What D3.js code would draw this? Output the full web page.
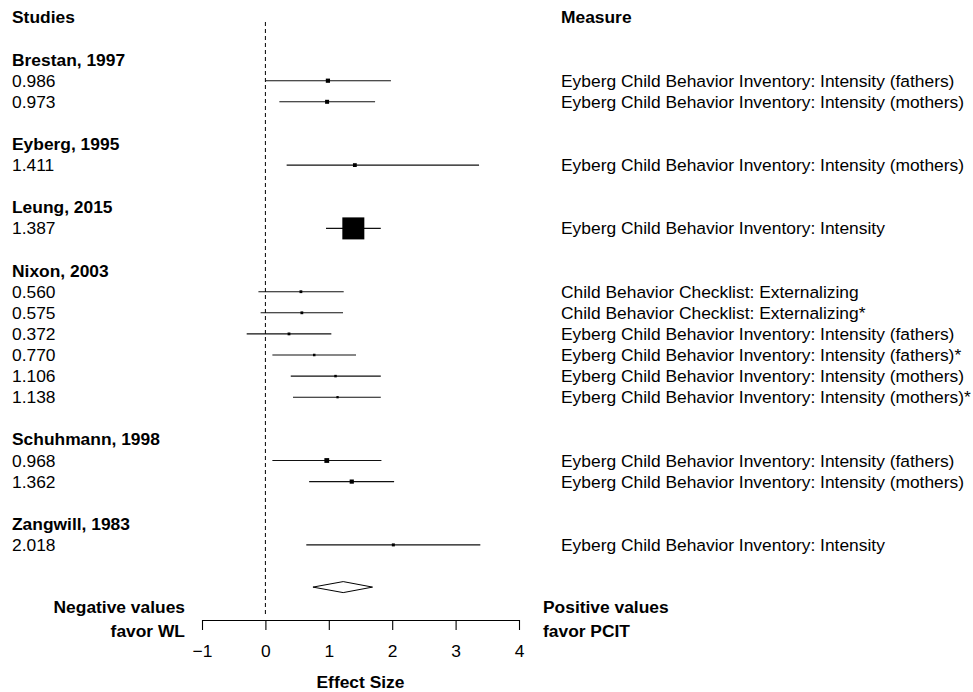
<!DOCTYPE html>
<html>
<head>
<meta charset="utf-8">
<script src="https://cdn.jsdelivr.net/npm/d3@7"></script>
<style>
  body { margin: 0; background: #fff; }
  svg text { font-family: "Liberation Sans", Arial, Helvetica, sans-serif; fill: #000; }
</style>
</head>
<body>
<svg id="chart" width="973" height="692"></svg>
<script>
// Study headers
const studies = ["Brestan, 1997", "Eyberg, 1995", "Leung, 2015", "Nixon, 2003", "Schuhmann, 1998", "Zangwill, 1983"];

// One entry per effect size
const studyIndex = [0, 0, 1, 2, 3, 3, 3, 3, 3, 3, 4, 4, 5];
const effects    = [0.986, 0.973, 1.411, 1.387, 0.560, 0.575, 0.372, 0.770, 1.106, 1.138, 0.968, 1.362, 2.018];
const lower      = [0.00, 0.22, 0.335, 0.956, -0.11, -0.075, -0.295, 0.11, 0.40, 0.435, 0.11, 0.69, 0.645];
const upper      = [1.98, 1.73, 3.37, 1.82, 1.235, 1.224, 1.04, 1.43, 1.82, 1.82, 1.83, 2.03, 3.39];
const weights    = [4.2, 4.0, 3.8, 22.0, 2.8, 2.8, 2.8, 2.5, 2.5, 2.3, 4.8, 4.2, 3.0];
const measures = [
  "Eyberg Child Behavior Inventory: Intensity (fathers)",
  "Eyberg Child Behavior Inventory: Intensity (mothers)",
  "Eyberg Child Behavior Inventory: Intensity (mothers)",
  "Eyberg Child Behavior Inventory: Intensity",
  "Child Behavior Checklist: Externalizing",
  "Child Behavior Checklist: Externalizing*",
  "Eyberg Child Behavior Inventory: Intensity (fathers)",
  "Eyberg Child Behavior Inventory: Intensity (fathers)*",
  "Eyberg Child Behavior Inventory: Intensity (mothers)",
  "Eyberg Child Behavior Inventory: Intensity (mothers)*",
  "Eyberg Child Behavior Inventory: Intensity (fathers)",
  "Eyberg Child Behavior Inventory: Intensity (mothers)",
  "Eyberg Child Behavior Inventory: Intensity"
];

// Pooled estimate
const pooled = { est: 1.227, lo: 0.75, hi: 1.69 };

// Axis ticks
const ticks = [-1, 0, 1, 2, 3, 4];

const svg = d3.select("#chart");
const FS = 17.4;

// Row layout: header row per study, its estimates, then a blank row
const headerRow = [];
const estRow = [];
let r = -1;
studies.forEach((s, i) => {
  headerRow.push(r);
  r++;
  studyIndex.forEach((si, j) => { if (si === i) { estRow[j] = r; r++; } });
  r++;
});
const pooledRow = r;

const x = d3.scaleLinear().domain([-1, 4]).range([202, 519]);
const y = d3.scaleLinear().domain([0, 1]).range([80.7, 101.8]);
const side = d3.scaleLinear().domain([0, d3.max(weights)]).range([0, 22]);
const TY = 6; // baseline offset from row centre

// Column headers
svg.append("text").attr("x", 12).attr("y", y(-3) + TY)
  .attr("font-size", FS).attr("font-weight", "bold").text("Studies");
svg.append("text").attr("x", 561).attr("y", y(-3) + TY)
  .attr("font-size", FS).attr("font-weight", "bold").text("Measure");

// Reference line at zero
svg.append("line")
  .attr("x1", x(0)).attr("x2", x(0))
  .attr("y1", 22).attr("y2", 617)
  .attr("stroke", "#000").attr("stroke-width", 1)
  .attr("stroke-dasharray", "4,3");

// Study headers
svg.selectAll("text.study").data(studies).join("text")
  .attr("class", "study")
  .attr("x", 12).attr("y", (d, i) => y(headerRow[i]) + TY)
  .attr("font-size", FS).attr("font-weight", "bold")
  .text(d => d);

// Effect values on the left
svg.selectAll("text.val").data(effects).join("text")
  .attr("class", "val")
  .attr("x", 12).attr("y", (d, i) => y(estRow[i]) + TY)
  .attr("font-size", FS)
  .text(d => d.toFixed(3));

// Measures on the right
svg.selectAll("text.meas").data(measures).join("text")
  .attr("class", "meas")
  .attr("x", 561).attr("y", (d, i) => y(estRow[i]) + TY)
  .attr("font-size", FS)
  .text(d => d);

// Confidence intervals
svg.selectAll("line.ci").data(effects).join("line")
  .attr("class", "ci")
  .attr("x1", (d, i) => x(lower[i])).attr("x2", (d, i) => x(upper[i]))
  .attr("y1", (d, i) => y(estRow[i])).attr("y2", (d, i) => y(estRow[i]))
  .attr("stroke", "#111").attr("stroke-width", 1.1);

// Weighted point estimates
svg.selectAll("rect.pt").data(effects).join("rect")
  .attr("class", "pt")
  .attr("x", (d, i) => x(d) - side(weights[i]) / 2)
  .attr("y", (d, i) => y(estRow[i]) - side(weights[i]) / 2)
  .attr("width", (d, i) => side(weights[i]))
  .attr("height", (d, i) => side(weights[i]))
  .attr("fill", "#000");

// Pooled diamond
const py = y(pooledRow);
svg.append("path")
  .attr("d", `M${x(pooled.lo)},${py} L${x(pooled.est)},${py - 5.5} L${x(pooled.hi)},${py} L${x(pooled.est)},${py + 5.5} Z`)
  .attr("fill", "#fff").attr("stroke", "#000").attr("stroke-width", 1);

// X axis
const axis = d3.axisBottom(x)
  .tickValues(ticks)
  .tickSize(10)
  .tickSizeOuter(0)
  .tickPadding(14.5)
  .tickFormat(d => d < 0 ? "\u2212" + Math.abs(d) : String(d));
const gAxis = svg.append("g").attr("transform", "translate(0,620)").call(axis);
gAxis.selectAll("text").attr("font-size", FS).attr("font-family", null).attr("fill", "#000");
gAxis.selectAll("line, path").attr("stroke", "#000").attr("stroke-width", 1.1);

// Axis title
svg.append("text").attr("x", (x(-1) + x(4)) / 2).attr("y", 688)
  .attr("text-anchor", "middle").attr("font-size", FS).attr("font-weight", "bold")
  .text("Effect Size");

// Direction labels
const leftLab = ["Negative values", "favor WL"];
const rightLab = ["Positive values", "favor PCIT"];
svg.selectAll("text.ll").data(leftLab).join("text")
  .attr("class", "ll").attr("x", 185).attr("y", (d, i) => 612.5 + i * 24)
  .attr("text-anchor", "end").attr("font-size", FS).attr("font-weight", "bold").text(d => d);
svg.selectAll("text.rl").data(rightLab).join("text")
  .attr("class", "rl").attr("x", 543).attr("y", (d, i) => 612.5 + i * 24)
  .attr("font-size", FS).attr("font-weight", "bold").text(d => d);
</script>
</body>
</html>
